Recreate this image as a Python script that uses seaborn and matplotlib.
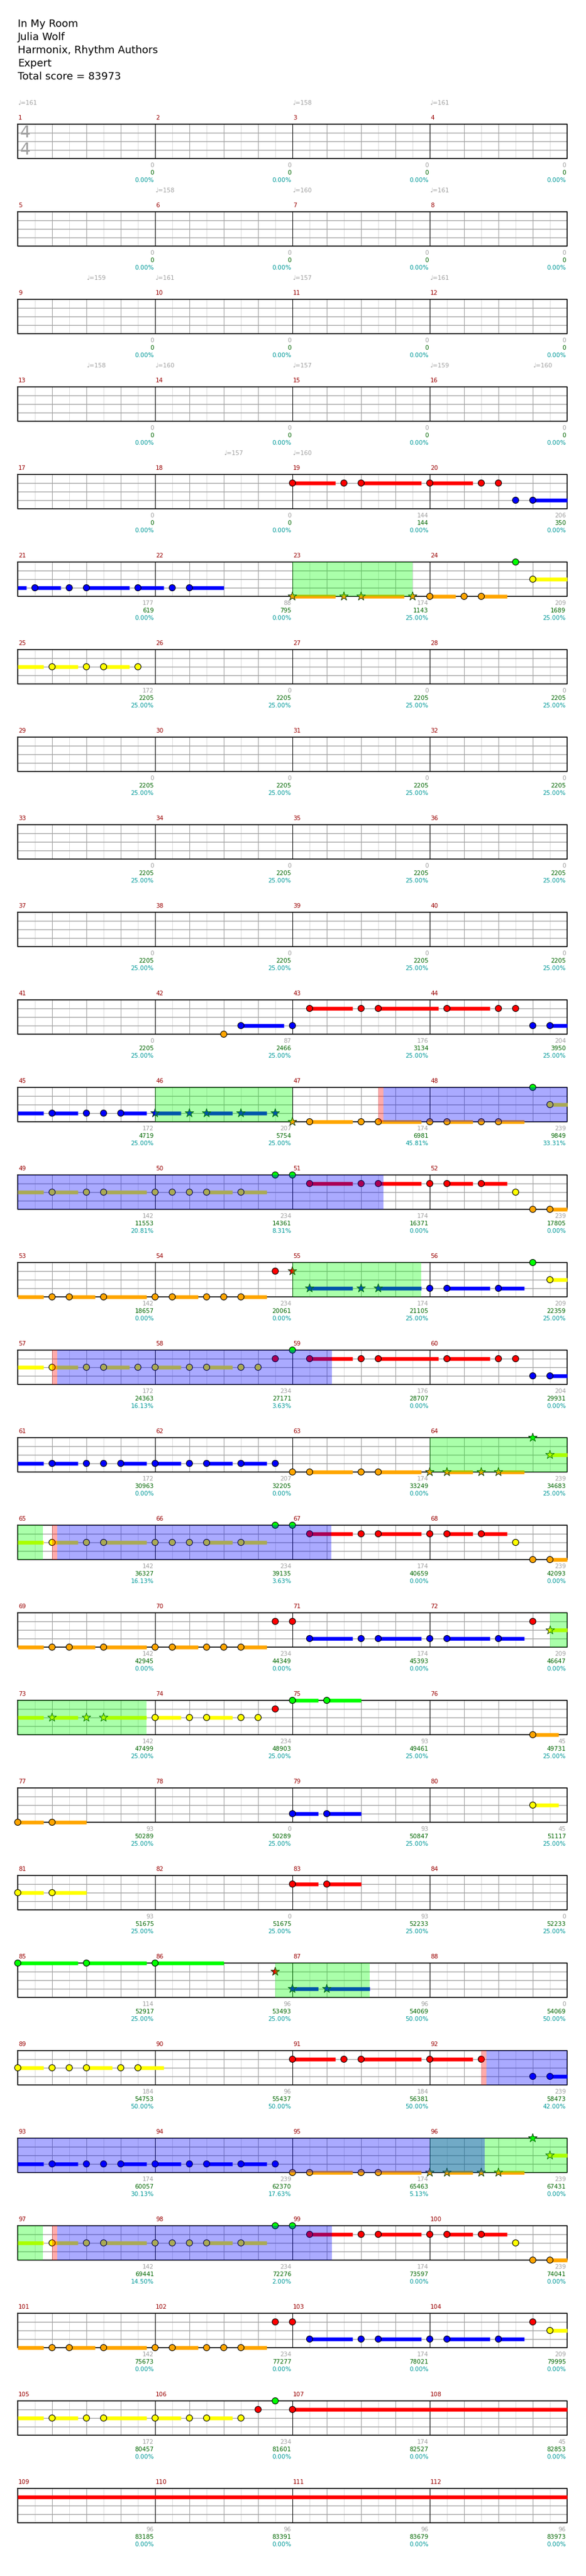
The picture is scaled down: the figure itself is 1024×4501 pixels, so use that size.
import numpy as np
import pandas as pd
import matplotlib
matplotlib.use("Agg")
import matplotlib.pyplot as plt
import seaborn as sns

sns.set_theme(style="white")
plt.rcParams['font.family'] = ['DejaVu Sans']

# ---------------- data ----------------
title_lines = ["In My Room", "Julia Wolf", "Harmonix, Rhythm Authors", "Expert", "Total score = 83973"]

lane_names = ["green", "red", "yellow", "blue", "orange"]
lane_colors = ["#00ff00", "#ff0000", "#ffff00", "#0000ff", "#ffa500"]

# notes: (position in eighth notes from song start, sustain length in eighths, star note)
green_notes = [(189, 0, 0), (382, 0, 0), (399, 0, 0), (400, 0, 0), (446, 0, 0), (464, 0, 0),
               (510, 0, 1), (527, 0, 0), (528, 0, 0), (592, 1.5, 0), (594, 2, 0),
               (672, 3.5, 0), (676, 3.5, 0), (680, 4, 0),
               (766, 0, 1), (783, 0, 0), (784, 0, 0), (847, 0, 0)]
red_notes = [(144, 2.5, 0), (147, 0, 0), (148, 3.5, 0), (152, 2.5, 0), (155, 0, 0), (156, 0, 0),
             (337, 2.5, 0), (340, 0, 0), (341, 3.5, 0), (345, 2.5, 0), (348, 0, 0), (349, 0, 0),
             (401, 2.5, 0), (404, 0, 0), (405, 2.5, 0), (408, 0, 0), (409, 1.5, 0), (411, 1.5, 0),
             (431, 0, 0), (432, 0, 1),
             (463, 0, 0), (465, 2.5, 0), (468, 0, 0), (469, 3.5, 0), (473, 2.5, 0), (476, 0, 0), (477, 0, 0),
             (529, 2.5, 0), (532, 0, 0), (533, 2.5, 0), (536, 0, 0), (537, 1.5, 0), (539, 1.5, 0),
             (559, 0, 0), (560, 0, 0), (574, 0, 0), (591, 0, 0), (656, 1.5, 0), (658, 2, 0), (687, 0, 1),
             (720, 2.5, 0), (723, 0, 0), (724, 3.5, 0), (728, 2.5, 0), (731, 0, 0),
             (785, 2.5, 0), (788, 0, 0), (789, 2.5, 0), (792, 0, 0), (793, 1.5, 0), (795, 1.5, 0),
             (815, 0, 0), (816, 0, 0), (830, 0, 0), (846, 0, 0), (848, 48, 0)]
yellow_notes = [(190, 3.5, 0), (194, 1.5, 0), (196, 0, 0), (197, 1.5, 0), (199, 0, 0), (383, 2.5, 0),
                (386, 1.5, 0), (388, 0, 0), (389, 2.5, 0), (392, 0, 0), (393, 0, 0), (394, 0, 0),
                (395, 1.5, 0), (397, 1.5, 0), (413, 0, 0), (447, 2.5, 0),
                (450, 1.5, 0), (452, 0, 0), (453, 1.5, 0), (455, 0, 0), (456, 1.5, 0), (458, 0, 0),
                (459, 1.5, 0), (461, 0, 0), (462, 0, 0), (511, 2.5, 1),
                (514, 1.5, 0), (516, 0, 0), (517, 2.5, 0), (520, 0, 0), (521, 0, 0), (522, 0, 0),
                (523, 1.5, 0), (525, 1.5, 0), (541, 0, 0), (575, 2.5, 1),
                (578, 1.5, 1), (580, 0, 1), (581, 2.5, 1), (584, 1.5, 0), (586, 0, 0), (587, 1.5, 0),
                (589, 0, 0), (590, 0, 0), (638, 1.5, 0), (640, 1.5, 0), (642, 2, 0),
                (704, 1.5, 0), (706, 0, 0), (707, 0, 0), (708, 1.5, 0), (710, 0, 0), (711, 1.5, 0),
                (767, 2.5, 1), (770, 1.5, 0), (772, 0, 0), (773, 2.5, 0), (776, 0, 0), (777, 0, 0),
                (778, 0, 0), (779, 1.5, 0), (781, 1.5, 0), (797, 0, 0), (831, 2.5, 0),
                (834, 1.5, 0), (836, 0, 0), (837, 2.5, 0), (840, 1.5, 0), (842, 0, 0), (843, 1.5, 0),
                (845, 0, 0)]
blue_notes = [(157, 0, 0), (158, 2.5, 0),
              (161, 1.5, 0), (163, 0, 0), (164, 2.5, 0), (167, 1.5, 0), (169, 0, 0), (170, 2, 0),
              (333, 2.5, 0), (336, 0, 0), (350, 0, 0), (351, 2.5, 0),
              (354, 1.5, 0), (356, 0, 0), (357, 0, 0), (358, 1.5, 0), (360, 1.5, 1), (362, 0, 1),
              (363, 1.5, 1), (365, 1.5, 1), (367, 0, 1),
              (433, 2.5, 1), (436, 0, 1), (437, 2.5, 1), (440, 0, 0), (441, 2.5, 0), (444, 1.5, 0),
              (478, 0, 0), (479, 2.5, 0),
              (482, 1.5, 0), (484, 0, 0), (485, 0, 0), (486, 1.5, 0), (488, 1.5, 0), (490, 0, 0),
              (491, 1.5, 0), (493, 1.5, 0), (495, 0, 0),
              (561, 2.5, 0), (564, 0, 0), (565, 2.5, 0), (568, 0, 0), (569, 2.5, 0), (572, 1.5, 0),
              (624, 1.5, 0), (626, 2, 0), (688, 1.5, 1), (690, 2.5, 1),
              (734, 0, 0), (735, 2.5, 0),
              (738, 1.5, 0), (740, 0, 0), (741, 0, 0), (742, 1.5, 0), (744, 1.5, 0), (746, 0, 0),
              (747, 1.5, 0), (749, 1.5, 0), (751, 0, 0),
              (817, 2.5, 0), (820, 0, 0), (821, 2.5, 0), (824, 0, 0), (825, 2.5, 0), (828, 1.5, 0)]
orange_notes = [(176, 2.5, 1), (179, 0, 1), (180, 2.5, 1), (183, 0, 1), (184, 1.5, 0), (186, 0, 0), (187, 1.5, 0),
                (332, 0, 0),
                (368, 0, 1), (369, 2.5, 0), (372, 0, 0), (373, 2.5, 0), (376, 0, 0), (377, 1.5, 0),
                (379, 0, 0), (380, 1.5, 0), (414, 0, 0), (415, 2.5, 0),
                (418, 0, 0), (419, 1.5, 0), (421, 2.5, 0), (424, 0, 0), (425, 1.5, 0), (427, 0, 0),
                (428, 0, 0), (429, 1.5, 0),
                (496, 0, 0), (497, 2.5, 0), (500, 0, 0), (501, 2.5, 0), (504, 0, 1), (505, 1.5, 1),
                (507, 0, 1), (508, 1.5, 1), (542, 0, 0), (543, 2.5, 0),
                (546, 0, 0), (547, 1.5, 0), (549, 2.5, 0), (552, 0, 0), (553, 1.5, 0), (555, 0, 0),
                (556, 0, 0), (557, 1.5, 0), (606, 1.5, 0), (608, 1.5, 0), (610, 2, 0),
                (752, 0, 0), (753, 2.5, 0), (756, 0, 0), (757, 2.5, 0), (760, 0, 1), (761, 1.5, 1),
                (763, 0, 1), (764, 1.5, 1), (798, 0, 0), (799, 2.5, 0),
                (802, 0, 0), (803, 1.5, 0), (805, 2.5, 0), (808, 0, 0), (809, 1.5, 0), (811, 0, 0),
                (812, 0, 0), (813, 1.5, 0)]

# overdrive phrases (green), activations (blue), squeeze zones (red) in eighths
od_phrases = [(176, 183), (360, 368), (432, 439.5), (504, 513.46), (575, 583.5), (687, 692.5),
              (760, 769.46)]
od_activations = [(373.3, 405.3), (450.3, 466.3), (514.3, 530.26), (731.3, 763.2), (770.3, 786.3)]
od_squeeze = [(373, 373.3), (450, 450.3), (514, 514.3), (731, 731.3), (770, 770.3)]

# tempo changes: (position in eighths, bpm)
tempo_pos = [0, 16, 24, 40, 48, 56, 68, 72, 80, 88, 100, 104, 112, 120, 126, 140, 144]
tempo_bpm = [161, 158, 161, 158, 160, 161, 159, 161, 157, 161, 158, 160, 157, 159, 160, 157, 160]

# per-measure scores
measure_gain = ([0] * 18 + [144, 206, 177, 88, 174, 209, 172] + [0] * 16 +
                [87, 176, 204, 172, 207, 174, 239, 142, 234, 174, 239, 142, 234, 174, 209,
                 172, 234, 176, 204, 172, 207, 174, 239, 142, 234, 174, 239, 142, 234, 174, 209,
                 142, 234, 93, 45, 93, 0, 93, 45, 93, 0, 93, 0, 114, 96, 96, 0] +
                [184, 96, 184, 239, 174, 239, 174, 239, 142, 234, 174, 239, 142, 234, 174, 209,
                 172, 234, 174, 45, 96, 96, 96, 96])
measure_total = ([0] * 18 + [144, 350, 619, 795, 1143, 1689, 2205] + [2205] * 16 +
                 [2466, 3134, 3950, 4719, 5754, 6981, 9849, 11553, 14361, 16371, 17805, 18657, 20061,
                  21105, 22359, 24363, 27171, 28707, 29931, 30963, 32205, 33249, 34683, 36327, 39135,
                  40659, 42093, 42945, 44349, 45393, 46647, 47499, 48903, 49461, 49731, 50289, 50289,
                  50847, 51117, 51675, 51675, 52233, 52233, 52917, 53493, 54069, 54069] +
                 [54753, 55437, 56381, 58473, 60057, 62370, 65463, 67431, 69441, 72276, 73597, 74041,
                  75673, 77277, 78021, 79995, 80457, 81601, 82527, 82853, 83185, 83391, 83679, 83973])
measure_pct = ([0.0] * 22 + [25.0, 25.0] + [25.0] * 17 +
               [25.0, 25.0, 25.0, 25.0, 25.0, 45.81, 33.31, 20.81, 8.31, 0.0, 0.0, 0.0, 0.0, 25.0,
                25.0, 16.13, 3.63, 0.0, 0.0, 0.0, 0.0, 0.0, 25.0, 16.13, 3.63, 0.0, 0.0, 0.0, 0.0,
                0.0, 0.0, 25.0, 25.0, 25.0, 25.0, 25.0, 25.0, 25.0, 25.0, 25.0, 25.0, 25.0, 25.0,
                25.0, 25.0, 50.0, 50.0] +
               [50.0, 50.0, 50.0, 42.0, 30.13, 17.63, 5.13, 0.0, 14.5, 2.0, 0.0, 0.0,
                0.0, 0.0, 0.0, 0.0, 0.0, 0.0, 0.0, 0.0, 0.0, 0.0, 0.0, 0.0])

# ---------------- build tables ----------------
rows = []
for lane, notes in enumerate([green_notes, red_notes, yellow_notes, blue_notes, orange_notes]):
    for pos, length, star in notes:
        rows.append(dict(pos=pos, length=length, star=bool(star), lane=lane, name=lane_names[lane]))
notes_df = pd.DataFrame(rows)
palette = dict(zip(lane_names, lane_colors))

W, H = 1024, 4501
fig = plt.figure(figsize=(W / 100, H / 100), dpi=100)
fig.patch.set_facecolor("white")

for i, line in enumerate(title_lines):
    fig.text(31 / W, 1 - (42 + 23 * i) / H, line, fontsize=13, color="black", va="center", ha="left")

STAFF_L, STAFF_W = 31, 960
ROW0, PITCH, STAFF_H = 217, 153, 60
N_ROWS = 28
lane_px = STAFF_H / 4.0
small = 7.6

for r in range(N_ROWS):
    top = ROW0 + r * PITCH
    ax = fig.add_axes([STAFF_L / W, 1 - (top + STAFF_H) / H, STAFF_W / W, STAFF_H / H])
    ax.set_axis_off()
    start = r * 32
    # grid
    for k in range(33):
        if k % 8 == 0:
            continue
        col = "#a0a0a0" if k % 2 == 0 else "#dcdcdc"
        ax.axvline(k, color=col, lw=0.75, zorder=1)
    for ln in (1, 2, 3):
        ax.axhline(ln, color="#a0a0a0", lw=1.0, zorder=1.2)
    for k in (8, 16, 24):
        ax.axvline(k, color="black", lw=0.75, zorder=1.5)
    ax.plot([0, 32, 32, 0, 0], [0, 0, 4, 4, 0], color="black", lw=1.2, zorder=1.6, clip_on=False)

    # sustains
    for _, n in notes_df[notes_df.length > 0].iterrows():
        x0 = max(n.pos, start) - start
        x1 = min(n.pos + n.length, start + 32) - start
        if x1 > x0 and n.pos < start + 32 and n.pos + n.length > start:
            lc = ax.hlines(n.lane, x0, x1, colors=lane_colors[n.lane], lw=4.7, zorder=3, clip_on=False)
            lc.set_capstyle("butt")

    sub = notes_df[(notes_df.pos >= start) & (notes_df.pos < start + 32)].copy()
    sub["x"] = sub.pos - start
    circ = sub[~sub.star]
    stars = sub[sub.star]
    if len(circ):
        sns.scatterplot(data=circ, x="x", y="lane", hue="name", palette=palette, s=62,
                        marker="o", edgecolor="black", linewidth=0.8, legend=False, ax=ax,
                        zorder=4, clip_on=False)
    if len(stars):
        sns.scatterplot(data=stars, x="x", y="lane", hue="name", palette=palette, s=130,
                        marker="*", edgecolor="#003300", linewidth=0.7, legend=False, ax=ax,
                        zorder=4, clip_on=False)

    # overlays
    for spans, col in ((od_phrases, "#00ff00"), (od_squeeze, "#ff0000"), (od_activations, "#0000ff")):
        for a, b in spans:
            a0, b0 = max(a, start) - start, min(b, start + 32) - start
            if b0 > a0:
                ax.axvspan(a0, b0, ymin=0, ymax=1, color=col, alpha=1 / 3, lw=0, zorder=6)

    ax.set_xlim(0, 32)
    ax.set_ylim(4, 0)
    ax.set_xlabel("")
    ax.set_ylabel("")

    # time signature
    if r == 0:
        ax.text(0.12, 1.02, "4", fontsize=21, color="#a0a0a0", ha="left", va="center", zorder=2)
        ax.text(0.12, 3.0, "4", fontsize=21, color="#a0a0a0", ha="left", va="center", zorder=2)

    # measure numbers and scores
    for k in range(4):
        m = r * 4 + k
        ax.text(k * 8 + 0.04, -11 / lane_px, str(m + 1), color="#990000", fontsize=small,
                ha="left", va="center", clip_on=False)
        xr = (k + 1) * 8 - 0.07
        ax.text(xr, 4 + 12 / lane_px, str(measure_gain[m]), color="#a0a0a0", fontsize=small,
                ha="right", va="center", clip_on=False)
        ax.text(xr, 4 + 25 / lane_px, str(measure_total[m]), color="#006600", fontsize=small,
                ha="right", va="center", clip_on=False)
        ax.text(xr, 4 + 38 / lane_px, "%.2f%%" % measure_pct[m], color="#009999", fontsize=small,
                ha="right", va="center", clip_on=False)

    # tempo markers
    for p, b in zip(tempo_pos, tempo_bpm):
        if start <= p < start + 32:
            ax.text(p - start, -37 / lane_px, "\u2669=%d" % b, color="#a0a0a0", fontsize=small,
                    ha="left", va="center", clip_on=False)

fig.savefig("out.png", dpi=100, facecolor="white")
